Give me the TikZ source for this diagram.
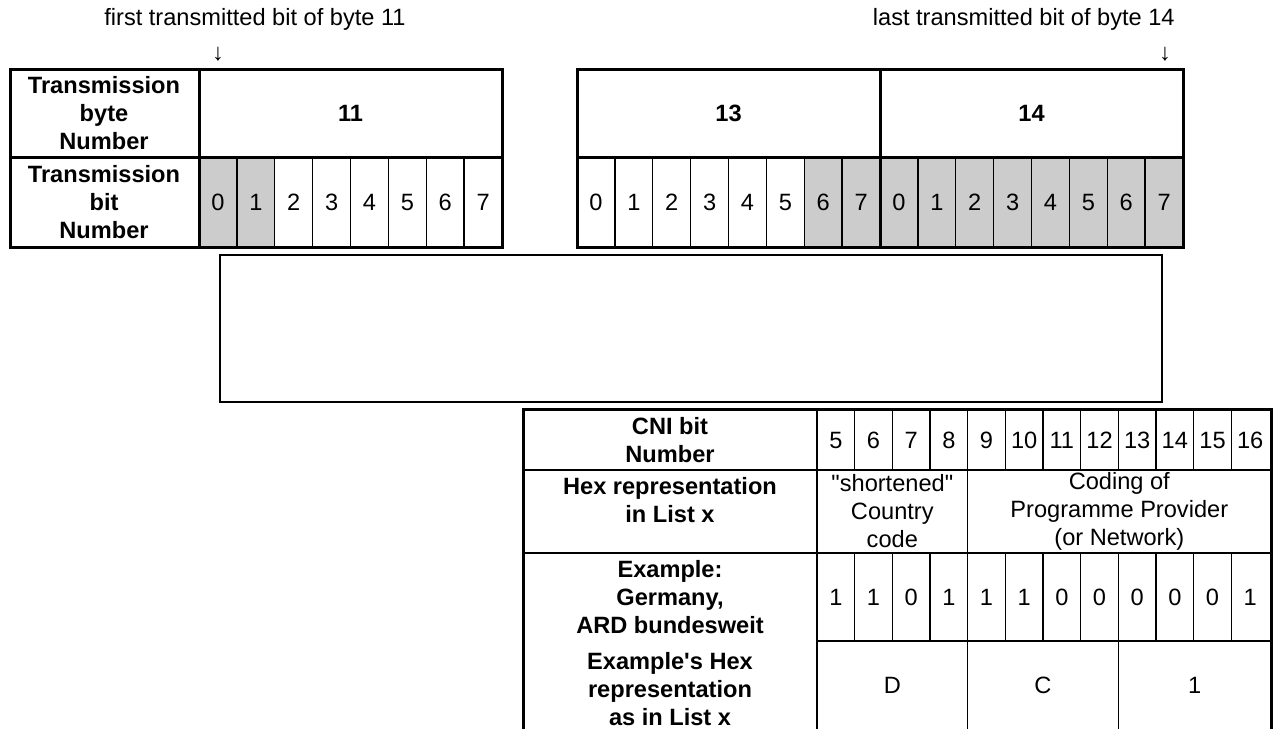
\documentclass[tikz,border=0pt]{standalone}
\usepackage{fontspec}
\setmainfont{Liberation Sans}[Ligatures=TeXOff]
\usetikzlibrary{positioning}
\newcommand\figfont{\fontsize{11.8}{14}\selectfont}

\begin{document}
\begin{tikzpicture}[x=0.5pt,y=-0.5pt,
  every node/.style={font=\figfont,inner sep=1pt},
  frame/.style={line width=1.5pt},
  grid/.style={line width=0.65pt},
  hdr/.style={font=\figfont\bfseries,align=center},
  txt/.style={align=center},
  cellgray/.style={fill=black!20}]
\useasboundingbox (0,0) rectangle (1279,729);
% transmission bytes
\fill[cellgray] (199,157) rectangle (274.75,247);
\fill[cellgray] (804.25,157) rectangle (1183,247);
\foreach \i in {1,...,7} \draw[grid] ({199+\i*37.875},157) -- ++(0,90);
\foreach \i in {1,...,15} \draw[grid] ({577+\i*37.875},157) -- ++(0,90);
\draw[frame] (10,69) rectangle (502,247);
\draw[frame] (10,157) -- (502,157);
\draw[frame] (199,69) -- (199,247);
\draw[frame] (577,69) rectangle (1183,247);
\draw[frame] (577,157) -- (1183,157);
\draw[frame] (880,69) -- (880,247);
\node[hdr] (bytehdr) at (104,113) {Transmission\\byte\\Number};
\node[hdr] (bithdr) at (104,202) {Transmission\\bit\\Number};
\node[hdr] (byte11) at (350.5,113) {11};
\node[hdr] (byte13) at (728.5,113) {13};
\node[hdr] (byte14) at (1031.5,113) {14};
\foreach \i in {0,...,7} \node (lb\i) at ({199+(\i+0.5)*37.875},202) {\i};
\foreach \i [evaluate=\i as \b using {int(mod(\i,8))}] in {0,...,15}
  \node (rb\i) at ({577+(\i+0.5)*37.875},202) {\b};
\node[anchor=base] (first) at (255,25) {first transmitted bit of byte 11};
\node (firstarr) at (218,54) {↓};
\node[anchor=base east] (last) at (1177,25) {last transmitted bit of byte 14};
\node (lastarr) at (1165,54) {↓};
% empty box
\draw[line width=0.75pt] (220,255) rectangle (1162,402);
% CNI table
\draw[grid] (523,470) -- (1271,470);
\draw[grid] (523,553) -- (1271,553);
\draw[grid] (817,641) -- (1271,641);
\draw[grid] (817,409) -- (817,729);
\foreach \i in {1,...,11} {
  \draw[grid] ({817+\i*37.667},409) -- ++(0,61);
  \draw[grid] ({817+\i*37.667},553) -- ++(0,88);
}
\draw[grid] (967.7,470) -- (967.7,553);
\draw[grid] (967.7,641) -- (967.7,729);
\draw[grid] (1118.3,641) -- (1118.3,729);
\draw[frame] (523,729) -- (523,409) -- (1271,409) -- (1271,729);
\node[hdr] (cnihdr) at (670,440) {CNI bit\\Number};
\node[hdr] (hexhdr) at (670,500) {Hex representation\\in List x};
\node[hdr] (exhdr) at (670,597) {Example:\\Germany,\\ARD bundesweit};
\node[hdr] (exhexhdr) at (670,689) {Example's Hex\\representation\\as in List x};
\foreach \n [count=\i from 0] in {5,...,16}
  \node (cn\n) at ({817+(\i+0.5)*37.667},440) {\n};
\foreach \v [count=\i from 0] in {1,1,0,1,1,1,0,0,0,0,0,1}
  \node (ex\i) at ({817+(\i+0.5)*37.667},597) {\v};
\node[txt] (country) at (892.3,511) {"shortened"\\Country\\code};
\node[txt] (provider) at (1119.3,511) {Coding of\\Programme Provider\\(or Network)};
\node (hexd) at (892.3,685) {D};
\node (hexc) at (1043,685) {C};
\node (hexone) at (1194.6,685) {1};
\end{tikzpicture}
\end{document}
